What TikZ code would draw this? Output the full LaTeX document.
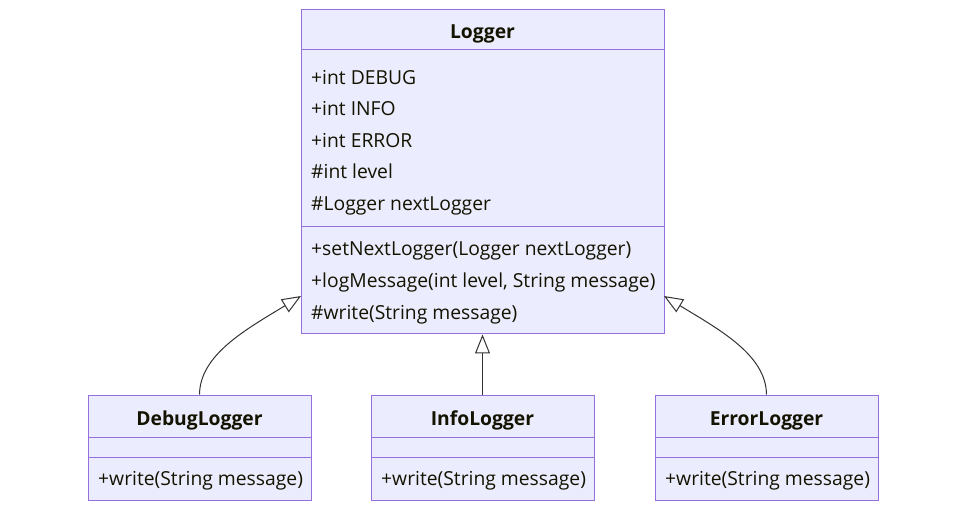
\documentclass[tikz,border=0pt]{standalone}
\usepackage{fontspec}
\setmainfont{Open Sans}
\usetikzlibrary{arrows.meta}
\definecolor{boxfill}{HTML}{ECECFF}
\definecolor{boxline}{HTML}{9370DB}
\definecolor{txt}{HTML}{131300}
\definecolor{edge}{HTML}{333333}
\begin{document}
\begin{tikzpicture}[x=1pt,y=-1pt,
  classbox/.style={draw=boxline,fill=boxfill,line width=1pt,inner sep=0pt},
  divider/.style={draw=boxline,line width=1pt},
  title/.style={font=\fontsize{19.3}{23}\selectfont\bfseries,text=txt,inner sep=0pt,anchor=base},
  member/.style={font=\fontsize{19.3}{23}\selectfont,text=txt,anchor=base west,inner sep=0pt},
  inherit/.style={draw=edge,line width=1pt,-{Triangle[open,fill=white,length=19pt,width=15pt]}}]
\useasboundingbox (0,0) rectangle (966,510);
% Logger
\node[classbox,minimum width=363pt,minimum height=324pt] (logger) at (482.5,172) {};
\draw[divider] (301,50) -- (664,50);
\draw[divider] (301,227) -- (664,227);
\node[title] (ltitle) at (482.5,39) {Logger};
\node[member] (a1) at (311,85) {+int DEBUG};
\node[member] (a2) at (311,116) {+int INFO};
\node[member] (a3) at (311,148) {+int ERROR};
\node[member] (a4) at (311,179) {\#int level};
\node[member] (a5) at (311,211) {\#Logger nextLogger};
\node[member] (m1) at (311,256) {+setNextLogger(Logger nextLogger)};
\node[member] (m2) at (311,288) {+logMessage(int level, String message)};
\node[member] (m3) at (311,320) {\#write(String message)};
% DebugLogger
\node[classbox,minimum width=223pt,minimum height=105pt] (debug) at (199.5,447.5) {};
\draw[divider] (88,437) -- (311,437);
\draw[divider] (88,457) -- (311,457);
\node[title] (dtitle) at (199.5,425) {DebugLogger};
\node[member] (dm) at (98,485) {+write(String message)};
% InfoLogger
\node[classbox,minimum width=223pt,minimum height=105pt] (info) at (482.5,447.5) {};
\draw[divider] (371,437) -- (594,437);
\draw[divider] (371,457) -- (594,457);
\node[title] (ititle) at (482.5,425) {InfoLogger};
\node[member] (im) at (381,485) {+write(String message)};
% ErrorLogger
\node[classbox,minimum width=223pt,minimum height=105pt] (error) at (766.5,447.5) {};
\draw[divider] (655,437) -- (878,437);
\draw[divider] (655,457) -- (878,457);
\node[title] (etitle) at (766.5,425) {ErrorLogger};
\node[member] (em) at (665,485) {+write(String message)};
% connectors
\coordinate (lin) at (301,296);
\coordinate (rin) at (664,296);
\draw[inherit] (debug.north) .. controls (200,355) and (245,330) .. (lin);
\draw[inherit] (info.north) -- (logger.south);
\draw[inherit] (error.north) .. controls (766,355) and (720,330) .. (rin);
\end{tikzpicture}
\end{document}
